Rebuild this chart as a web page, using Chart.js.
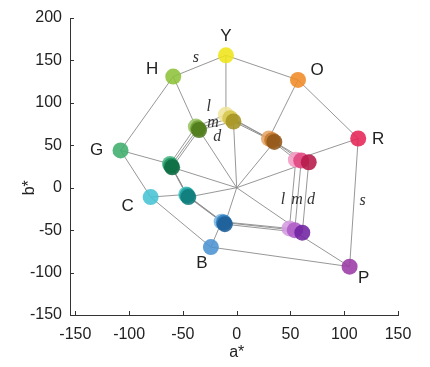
<!DOCTYPE html>
<html><head><meta charset="utf-8">
<script src="https://cdn.jsdelivr.net/npm/chart.js@4/dist/chart.umd.min.js"></script>
<style>html,body{margin:0;padding:0;background:#fff}#wrap{width:430px;height:367px;position:relative}</style>
</head><body><div id="wrap"><canvas id="c" width="430" height="367"></canvas></div>
<script>
// ---- data ----
const hueNames = ['Y','O','R','P','B','C','G','H'];
const satA   = [-10, 57, 113, 105, -24, -80, -108, -59];
const satB   = [156, 127, 58, -93, -70, -11, 44, 131];
const lightA = [-10, 30, 55, 49, -14, -47, -62, -38];
const lightB = [86, 58, 33, -48, -40, -8, 28, 72];
const medA   = [-6, 33, 60, 54, -12, -46, -61, -36];
const medB   = [82, 56, 32, -50, -41, -9, 26, 70];
const darkA  = [-3, 35, 67, 61, -11, -45, -60, -35];
const darkB  = [78, 54, 30, -53, -43, -11, 24, 68];
const xTicks = [-150, -100, -50, 0, 50, 100, 150];
const yTicks = [-150, -100, -50, 0, 50, 100, 150, 200];
const italicText = ['s', 'l', 'm', 'd', 'l', 'm', 'd', 's'];
const italicA = [-38, -26, -22, -18, 43, 56, 69, 117];
const italicB = [153, 95, 77, 60, -14, -14, -14, -16];

// ---- styles ----
const satColors   = ['#efe51a','#ef8a25','#e62456','#9b3aa6','#4b92d2','#46c3d3','#3fae6c','#8dc23a'];
const lightColors = ['#efe49a','#e6a466','#f29bc4','#d49ce0','#7db6e2','#5cc9c9','#4ab583','#9cc466'];
const medColors   = ['#d6c64c','#c47a2e','#e0457e','#ae5cc7','#2e80c2','#1fa3a2','#1f9462','#6fa031'];
const darkColors  = ['#a59322','#915719','#b51a4a','#7022a0','#1d5d96','#0f7b7a','#0e6b42','#4e7a1c'];
const labelOffsets = [[0,-19],[19,-10],[20,1],[14,12],[-9,16],[-23,9],[-24,0],[-21,-7]];
const lineColor = 'rgba(140,140,140,0.9)';

function pts(A, B) { return A.map((a, i) => ({x: a, y: B[i]})); }
function closed(A, B) { const p = pts(A, B); p.push(p[0]); return p; }
function alpha(c, a) {
  const r = parseInt(c.slice(1,3),16), g = parseInt(c.slice(3,5),16), b = parseInt(c.slice(5,7),16);
  return `rgba(${r},${g},${b},${a})`;
}

const datasets = [];
const lineDs = (data) => ({type:'scatter', data, showLine:true, borderColor:lineColor, borderWidth:1,
  pointRadius:0, pointHoverRadius:0, order:10});
datasets.push(lineDs(closed(satA, satB)));
datasets.push(lineDs(closed(lightA, lightB)));
datasets.push(lineDs(closed(medA, medB)));
datasets.push(lineDs(closed(darkA, darkB)));
hueNames.forEach((h, i) => {
  datasets.push(lineDs([{x:0,y:0},{x:darkA[i],y:darkB[i]},{x:medA[i],y:medB[i]},{x:lightA[i],y:lightB[i]},{x:satA[i],y:satB[i]}]));
});
const ptDs = (A, B, cols, order) => ({type:'scatter', data: pts(A, B), pointRadius:8, pointHoverRadius:8,
  pointBackgroundColor: cols.map(c => alpha(c, 0.88)), pointBorderWidth:0, showLine:false, order});
datasets.push(ptDs(satA, satB, satColors, 3));
datasets.push(ptDs(lightA, lightB, lightColors, 2));
datasets.push(ptDs(medA, medB, medColors, 1));
datasets.push(ptDs(darkA, darkB, darkColors, 0));

const annot = {
  id: 'annot',
  afterDraw(chart) {
    const ctx = chart.ctx, xs = chart.scales.x, ys = chart.scales.y;
    ctx.save();
    ctx.strokeStyle = '#333'; ctx.lineWidth = 1;
    ctx.beginPath();
    xTicks.forEach(v => { const p = Math.round(xs.getPixelForValue(v)) + 0.5; ctx.moveTo(p, ys.bottom); ctx.lineTo(p, ys.bottom - 4); });
    yTicks.forEach(v => { const p = Math.round(ys.getPixelForValue(v)) + 0.5; ctx.moveTo(xs.left, p); ctx.lineTo(xs.left + 4, p); });
    ctx.stroke();
    ctx.fillStyle = '#222';
    ctx.textAlign = 'center'; ctx.textBaseline = 'middle';
    ctx.font = '17px "Liberation Sans", Arial, sans-serif';
    hueNames.forEach((h, i) => {
      ctx.fillText(h, xs.getPixelForValue(satA[i]) + labelOffsets[i][0], ys.getPixelForValue(satB[i]) + labelOffsets[i][1]);
    });
    ctx.fillStyle = '#333';
    ctx.font = 'italic 16px "Liberation Serif", "DejaVu Serif", serif';
    italicText.forEach((t, i) => {
      ctx.fillText(t, xs.getPixelForValue(italicA[i]), ys.getPixelForValue(italicB[i]));
    });
    ctx.fillStyle = '#222';
    ctx.font = '16px "Liberation Sans", Arial, sans-serif';
    ctx.fillText('a*', xs.getPixelForValue(0), 353);
    ctx.translate(30, ys.getPixelForValue(0));
    ctx.rotate(-Math.PI / 2);
    ctx.fillText('b*', 0, 0);
    ctx.restore();
  }
};

new Chart(document.getElementById('c'), {
  type: 'scatter',
  data: { datasets },
  options: {
    responsive: false, animation: false,
    layout: { padding: { top: 18, right: 32, left: 0, bottom: 0 } },
    plugins: { legend: { display: false }, tooltip: { enabled: false } },
    scales: {
      x: {
        type: 'linear', min: -155, max: 150,
        grid: { display: false },
        border: { display: true, color: '#333', width: 1 },
        afterBuildTicks: s => { s.ticks = xTicks.map(v => ({value: v})); },
        afterFit: s => { s.height = 52; },
        ticks: { padding: 2, color: '#222', font: { family: '"Liberation Sans", Arial, sans-serif', size: 16 } }
      },
      y: {
        type: 'linear', min: -150, max: 200,
        grid: { display: false },
        border: { display: true, color: '#333', width: 1 },
        afterBuildTicks: s => { s.ticks = yTicks.map(v => ({value: v})); },
        afterFit: s => { s.width = 70; },
        ticks: { padding: 0, color: '#222', font: { family: '"Liberation Sans", Arial, sans-serif', size: 16 } }
      }
    }
  },
  plugins: [annot]
});
</script></body></html>
